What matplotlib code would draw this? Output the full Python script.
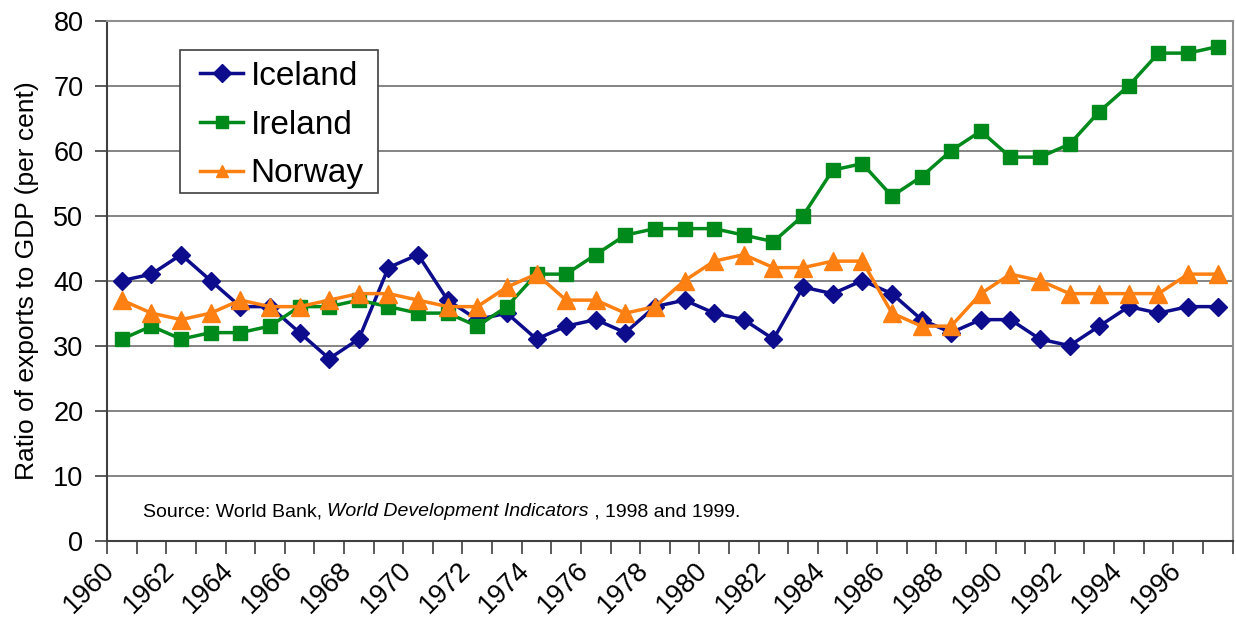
import matplotlib
matplotlib.use('Agg')
import matplotlib.pyplot as plt
from matplotlib.patches import Rectangle
from matplotlib.transforms import ScaledTranslation

plt.rcParams['font.family'] = ['Liberation Sans', 'DejaVu Sans']

years = list(range(1960, 1998))
iceland = [40, 41, 44, 40, 36, 36, 32, 28, 31, 42, 44, 37, 34, 35, 31, 33, 34, 32, 36, 37,
           35, 34, 31, 39, 38, 40, 38, 34, 32, 34, 34, 31, 30, 33, 36, 35, 36, 36]
ireland = [31, 33, 31, 32, 32, 33, 36, 36, 37, 36, 35, 35, 33, 36, 41, 41, 44, 47, 48, 48,
           48, 47, 46, 50, 57, 58, 53, 56, 60, 63, 59, 59, 61, 66, 70, 75, 75, 76]
norway = [37, 35, 34, 35, 37, 36, 36, 37, 38, 38, 37, 36, 36, 39, 41, 37, 37, 35, 36, 40,
          43, 44, 42, 42, 43, 43, 35, 33, 33, 38, 41, 40, 38, 38, 38, 38, 41, 41]

W, H = 1236, 625
fig = plt.figure(figsize=(W / 100, H / 100), dpi=100)
ax = fig.add_axes([0.0866, 0.135, 0.9106, 0.832])

x = list(range(len(years)))
ax.plot(x, iceland, color='#0c0c8c', lw=2.5, marker='D', ms=9, label='Iceland', zorder=3)
ax.plot(x, ireland, color='#008a1c', lw=2.5, marker='s', ms=10.5, label='Ireland', zorder=3)
ax.plot(x, norway, color='#ff8012', lw=2.5, marker='^', ms=12.5, label='Norway', zorder=3)

ax.set_xlim(-0.5, len(years) - 0.5)
ax.set_ylim(0, 80)
ax.set_yticks(range(0, 81, 10))
ax.yaxis.grid(True, color='#707070', lw=1.2)
ax.set_axisbelow(True)
ax.tick_params(axis='y', labelsize=19.5, length=9, width=1.2, color='#404040', pad=8)

# tick marks between categories, labels at every second category
ax.set_xticks([i - 0.5 for i in range(len(years) + 1)])
ax.set_xticklabels([])
ax.tick_params(axis='x', which='major', length=9, width=1.2, color='#404040')
ax.set_xticks(x[::2], minor=True)
ax.set_xticklabels([str(y) for y in years[::2]], minor=True, rotation=45,
                   ha='right', va='top', rotation_mode='anchor', fontsize=19.5)
ax.tick_params(axis='x', which='minor', length=0, pad=12)
shift = ScaledTranslation(-20 / 100, 0, fig.dpi_scale_trans)
for lab in ax.get_xticklabels(minor=True):
    lab.set_transform(lab.get_transform() + shift)

for side in ['left', 'bottom']:
    ax.spines[side].set_color('#404040')
    ax.spines[side].set_linewidth(1.5)
for side in ['top', 'right']:
    ax.spines[side].set_color('#909090')
    ax.spines[side].set_linewidth(1.5)

ax.set_ylabel('Ratio of exports to GDP (per cent)', fontsize=19, labelpad=10)

# legend box drawn separately so its margins can match the original
ax.add_patch(Rectangle((180 / W, 1 - 193 / H), 198 / W, 143 / H,
                       transform=fig.transFigure, facecolor='white',
                       edgecolor='#404040', lw=1.2, zorder=4, clip_on=False))
leg = ax.legend(loc='upper left', bbox_to_anchor=(200 / W, 1 - 61 / H),
                bbox_transform=fig.transFigure, fontsize=24, frameon=False,
                handlelength=1.3, handletextpad=0.22,
                borderpad=0, labelspacing=0.53, borderaxespad=0)
leg.set_zorder(5)
for h in leg.legend_handles:
    h.set_markersize(9)

# source note: normal / italic / normal pieces placed one after another
fig.canvas.draw()
renderer = fig.canvas.get_renderer()
xpos = 143 / W
ypos = 1 - 512 / H
pieces = [('Source: World Bank, ', 'normal'), ('World Development Indicators', 'italic'),
          (' , 1998 and 1999.', 'normal')]
for txt, st in pieces:
    t = fig.text(xpos, ypos, txt, fontsize=14, style=st, va='center')
    bb = t.get_window_extent(renderer)
    xpos += bb.width / fig.bbox.width

fig.savefig('out.png', dpi=100)
